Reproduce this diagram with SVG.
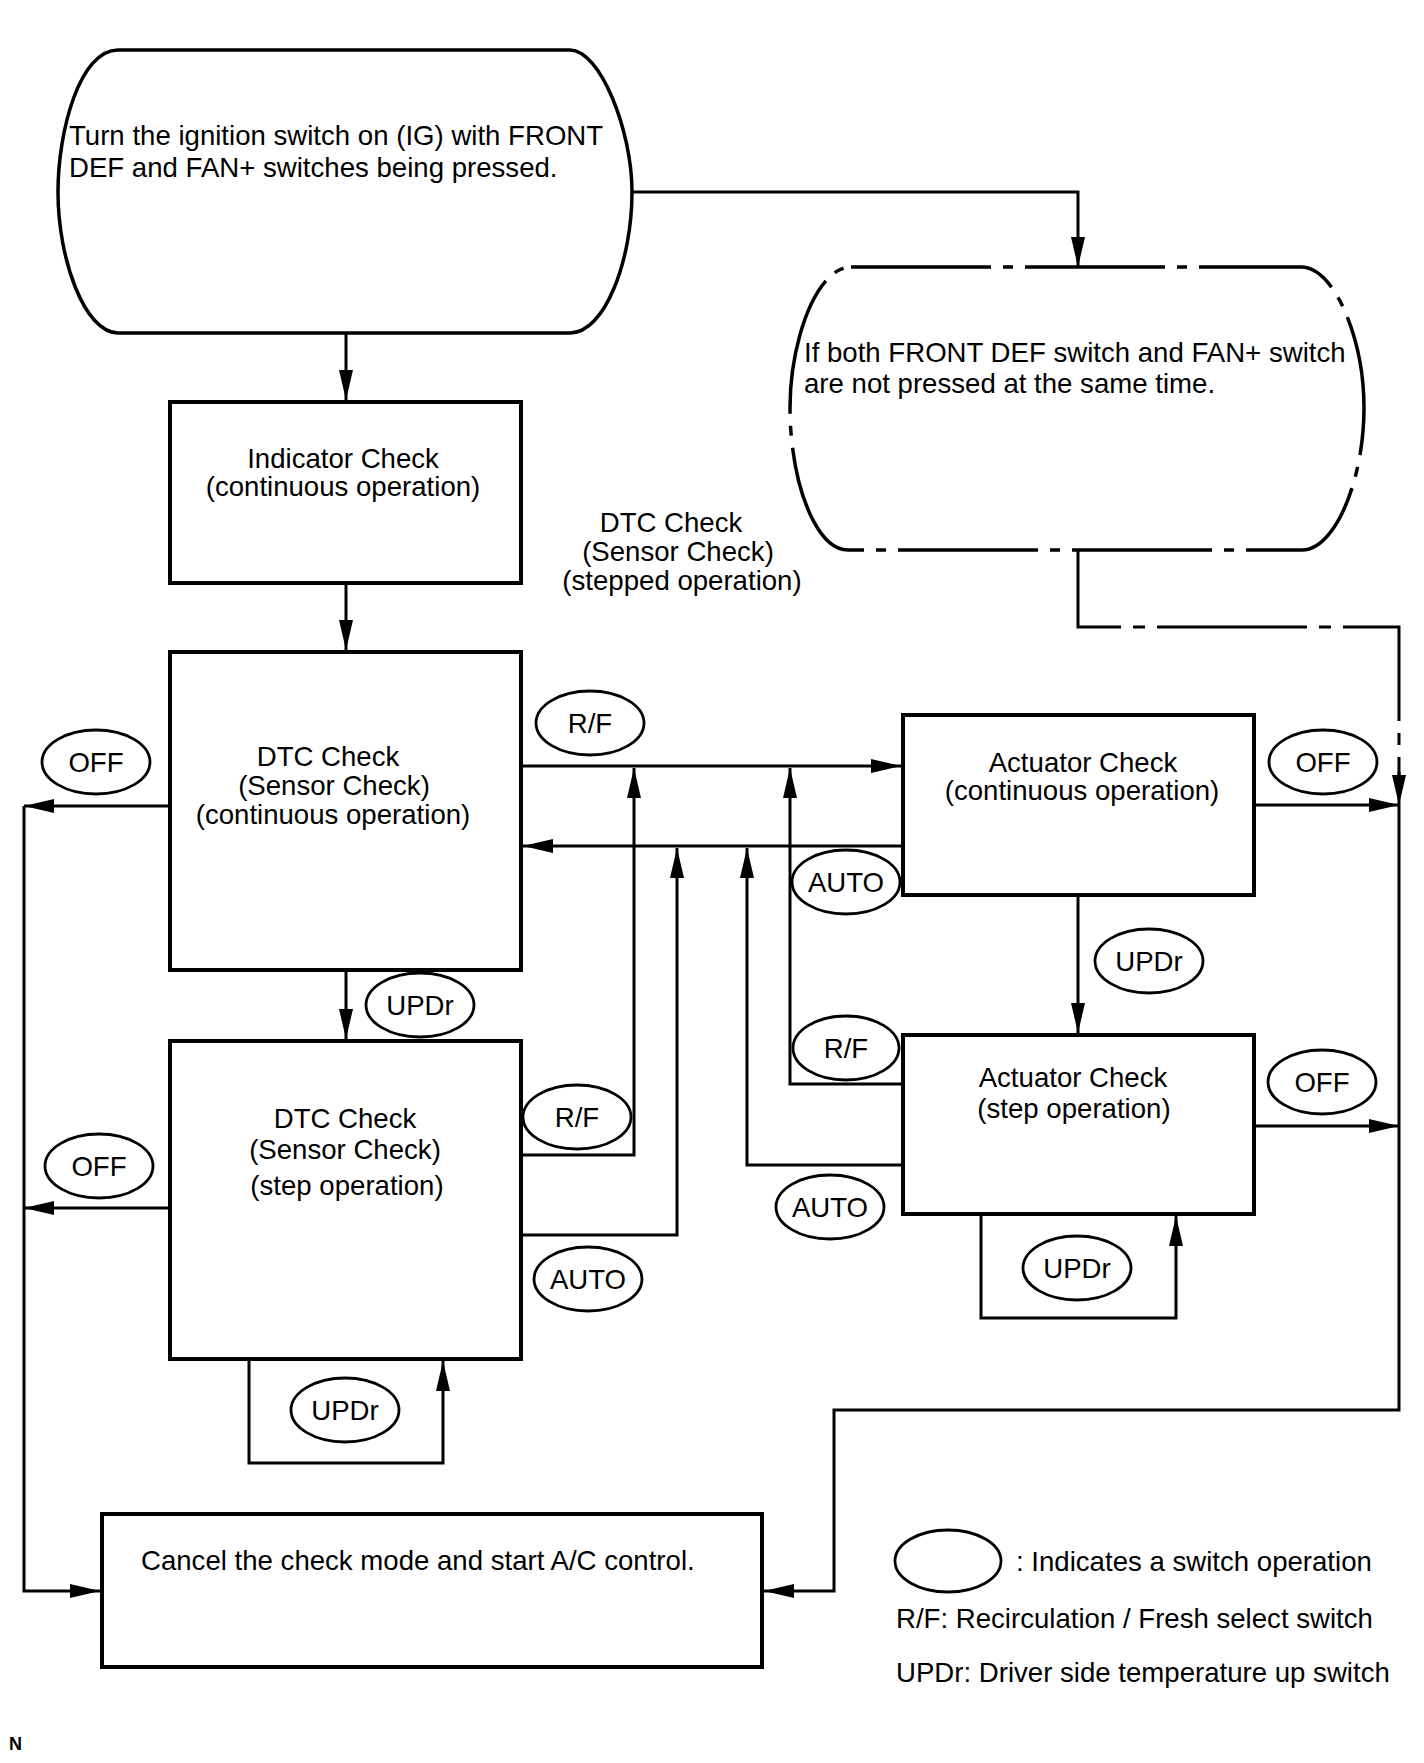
<svg xmlns="http://www.w3.org/2000/svg" width="1424" height="1763" viewBox="0 0 1424 1763">
<defs>
<style>
text{font-family:"Liberation Sans",Arial,sans-serif;font-size:27.6px;fill:#000}
.c{text-anchor:middle}
.box{fill:#fff;stroke:#000;stroke-width:4}
.term{fill:#fff;stroke:#000;stroke-width:3.5}
.dterm{fill:#fff;stroke:#000;stroke-width:3.5;stroke-dasharray:140 12 10 12}
.sw{fill:#fff;stroke:#000;stroke-width:2.8}
.arr{fill:none;stroke:#000;stroke-width:3;marker-end:url(#ah)}
.dash{fill:none;stroke:#000;stroke-width:3;stroke-dasharray:150 12 12 12;stroke-dashoffset:30}
</style>
<marker id="ah" markerUnits="userSpaceOnUse" markerWidth="32" markerHeight="14" refX="30" refY="7" orient="auto">
<path d="M0,0 L30,7 L0,14 Z" fill="#000"/>
</marker>
</defs>
<rect width="1424" height="1763" fill="#fff"/>

<g id="connectors">
<path class="arr" d="M346,333 V400"/>
<path class="arr" d="M632,192 H1078 V267"/>
<path class="arr" d="M346,583 V650"/>
<path class="arr" d="M346,970 V1039"/>
<path class="arr" d="M1078,895 V1033"/>
<path class="arr" d="M521,766 H901"/>
<path class="arr" d="M903,846 H523"/>
<path class="arr" d="M521,1155 H634 V768"/>
<path class="arr" d="M521,1235 H677 V848"/>
<path class="arr" d="M903,1084 H790 V768"/>
<path class="arr" d="M903,1165 H747 V848"/>
<path class="arr" d="M170,806 H24"/>
<path class="arr" d="M170,1208 H24"/>
<path class="arr" d="M24,806 V1591 H100"/>
<path class="arr" d="M1254,805 H1399"/>
<path class="arr" d="M1254,1126 H1399"/>
<path class="arr" d="M1399,805 V1410 H834 V1591 H764"/>
<path class="arr" d="M249,1359 V1463 H443 V1361"/>
<path class="arr" d="M981,1214 V1318 H1176 V1216"/>
<path class="dash" d="M1078,550 V627 H1399 V775"/>
<path class="arr" d="M1399,772 V805"/>
</g>

<g id="start">
<path class="term" d="M118,50 H570 C600,50 632,130 632,192 C632,260 605,333 570,333 H118 C85,333 58,260 58,192 C58,130 80,50 118,50 Z"/>
<text x="69" y="145">Turn the ignition switch on (IG) with FRONT</text>
<text x="69" y="177">DEF and FAN+ switches being pressed.</text>
</g>

<g id="notpressed">
<path class="dterm" d="M851,267 H1301 C1335,267 1364,340 1364,408 C1364,480 1335,550 1302,550 H848 C815,550 790,480 790,408 C790,340 817,267 851,267 Z"/>
<text x="804" y="362">If both FRONT DEF switch and FAN+ switch</text>
<text x="804" y="393">are not pressed at the same time.</text>
</g>

<g id="indicator">
<rect class="box" x="170" y="402" width="351" height="181"/>
<text class="c" x="343" y="468">Indicator Check</text>
<text class="c" x="343" y="496">(continuous operation)</text>
</g>

<g id="stepped-label">
<text class="c" x="671" y="532">DTC Check</text>
<text class="c" x="678" y="561">(Sensor Check)</text>
<text class="c" x="682" y="590">(stepped operation)</text>
</g>

<g id="dtc-cont">
<rect class="box" x="170" y="652" width="351" height="318"/>
<text class="c" x="328" y="766">DTC Check</text>
<text class="c" x="334" y="795">(Sensor Check)</text>
<text class="c" x="333" y="824">(continuous operation)</text>
</g>

<g id="dtc-step">
<rect class="box" x="170" y="1041" width="351" height="318"/>
<text class="c" x="345" y="1128">DTC Check</text>
<text class="c" x="345" y="1159">(Sensor Check)</text>
<text class="c" x="347" y="1195">(step operation)</text>
</g>

<g id="act-cont">
<rect class="box" x="903" y="715" width="351" height="180"/>
<text class="c" x="1083" y="772">Actuator Check</text>
<text class="c" x="1082" y="800">(continuous operation)</text>
</g>

<g id="act-step">
<rect class="box" x="903" y="1035" width="351" height="179"/>
<text class="c" x="1073" y="1087">Actuator Check</text>
<text class="c" x="1074" y="1118">(step operation)</text>
</g>

<g id="cancel">
<rect class="box" x="102" y="1514" width="660" height="153"/>
<text x="141" y="1570">Cancel the check mode and start A/C control.</text>
</g>

<g id="sw-off1"><ellipse class="sw" cx="96" cy="762" rx="54" ry="32"/><text class="c" x="96" y="772">OFF</text></g>
<g id="sw-rf1"><ellipse class="sw" cx="590" cy="723" rx="54" ry="32"/><text class="c" x="590" y="733">R/F</text></g>
<g id="sw-off2"><ellipse class="sw" cx="1323" cy="762" rx="54" ry="32"/><text class="c" x="1323" y="772">OFF</text></g>
<g id="sw-auto1"><ellipse class="sw" cx="846" cy="882" rx="54" ry="32"/><text class="c" x="846" y="892">AUTO</text></g>
<g id="sw-updr1"><ellipse class="sw" cx="1149" cy="961" rx="54" ry="32"/><text class="c" x="1149" y="971">UPDr</text></g>
<g id="sw-updr2"><ellipse class="sw" cx="420" cy="1005" rx="54" ry="32"/><text class="c" x="420" y="1015">UPDr</text></g>
<g id="sw-rf2"><ellipse class="sw" cx="846" cy="1048" rx="53" ry="32"/><text class="c" x="846" y="1058">R/F</text></g>
<g id="sw-off3"><ellipse class="sw" cx="1322" cy="1082" rx="54" ry="32"/><text class="c" x="1322" y="1092">OFF</text></g>
<g id="sw-rf3"><ellipse class="sw" cx="577" cy="1117" rx="54" ry="32"/><text class="c" x="577" y="1127">R/F</text></g>
<g id="sw-off4"><ellipse class="sw" cx="99" cy="1166" rx="54" ry="32"/><text class="c" x="99" y="1176">OFF</text></g>
<g id="sw-auto2"><ellipse class="sw" cx="830" cy="1207" rx="54" ry="32"/><text class="c" x="830" y="1217">AUTO</text></g>
<g id="sw-auto3"><ellipse class="sw" cx="588" cy="1279" rx="54" ry="32"/><text class="c" x="588" y="1289">AUTO</text></g>
<g id="sw-updr3"><ellipse class="sw" cx="1077" cy="1268" rx="54" ry="32"/><text class="c" x="1077" y="1278">UPDr</text></g>
<g id="sw-updr4"><ellipse class="sw" cx="345" cy="1410" rx="54" ry="32"/><text class="c" x="345" y="1420">UPDr</text></g>

<g id="legend">
<ellipse class="sw" cx="948" cy="1561" rx="53" ry="31"/>
<text x="1016" y="1571">: Indicates a switch operation</text>
<text x="896" y="1628">R/F: Recirculation / Fresh select switch</text>
<text x="896" y="1682">UPDr: Driver side temperature up switch</text>
</g>

<text x="9" y="1750" style="font-size:18px;font-weight:bold">N</text>
</svg>
